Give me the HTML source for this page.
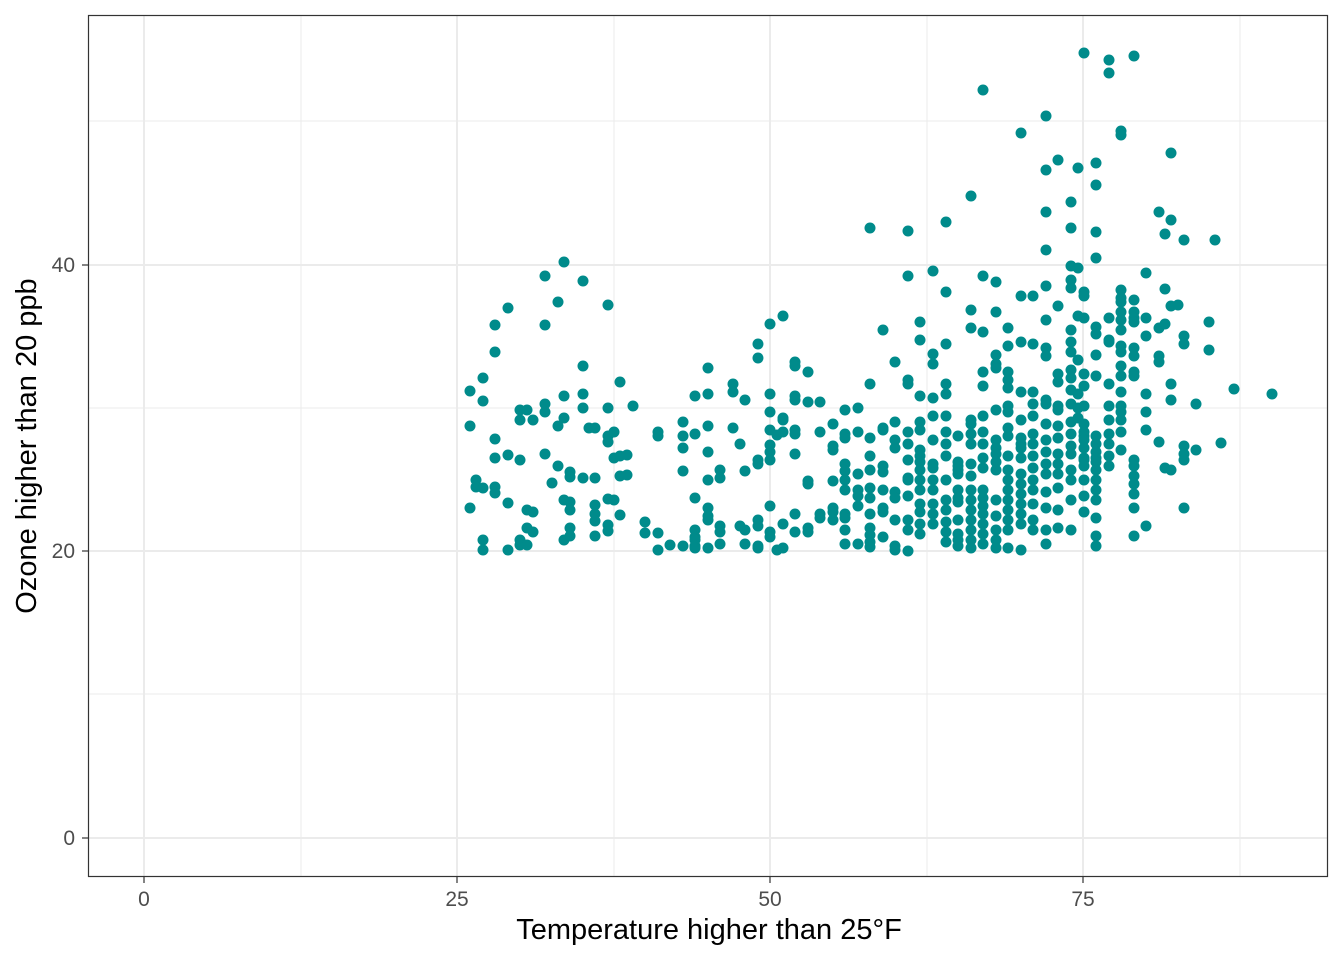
<!DOCTYPE html>
<html><head><meta charset="utf-8"><style>
html,body{margin:0;padding:0;background:#fff;}
svg{display:block;font-family:"Liberation Sans",sans-serif;}
</style></head><body>
<svg id="s" width="1344" height="960" xmlns="http://www.w3.org/2000/svg">
<rect width="1344" height="960" fill="#fff"/>
<g stroke="#ebebeb" stroke-width="1">
<line x1="301" y1="15" x2="301" y2="877"/><line x1="614" y1="15" x2="614" y2="877"/><line x1="927" y1="15" x2="927" y2="877"/><line x1="1240" y1="15" x2="1240" y2="877"/>
<line x1="88" y1="694" x2="1328" y2="694"/><line x1="88" y1="408" x2="1328" y2="408"/><line x1="88" y1="121" x2="1328" y2="121"/>
</g>
<g stroke="#ebebeb" stroke-width="2">
<line x1="144" y1="15" x2="144" y2="877"/><line x1="457" y1="15" x2="457" y2="877"/><line x1="770" y1="15" x2="770" y2="877"/><line x1="1083" y1="15" x2="1083" y2="877"/>
<line x1="88" y1="838" x2="1328" y2="838"/><line x1="88" y1="551" x2="1328" y2="551"/><line x1="88" y1="265" x2="1328" y2="265"/>
</g>
<g id="pts" fill="#008b8b"></g>
<rect x="88.5" y="15.5" width="1239" height="861" fill="none" stroke="#333" stroke-width="1.2"/>
<g stroke="#333" stroke-width="1.2">
<line x1="144" y1="877" x2="144" y2="883"/><line x1="457" y1="877" x2="457" y2="883"/><line x1="770" y1="877" x2="770" y2="883"/><line x1="1083" y1="877" x2="1083" y2="883"/>
<line x1="82" y1="838" x2="88" y2="838"/><line x1="82" y1="551" x2="88" y2="551"/><line x1="82" y1="265" x2="88" y2="265"/>
</g>
<g fill="#4d4d4d" font-size="21" text-anchor="middle">
<text x="144" y="906">0</text><text x="457" y="906">25</text><text x="770" y="906">50</text><text x="1083" y="906">75</text>
</g>
<g fill="#4d4d4d" font-size="21" text-anchor="end">
<text x="75" y="845">0</text><text x="75" y="558">20</text><text x="75" y="272">40</text>
</g>
<text x="709" y="939" font-size="29" text-anchor="middle" fill="#000">Temperature higher than 25°F</text>
<text transform="translate(36,446) rotate(-90)" font-size="29" text-anchor="middle" fill="#000">Ozone higher than 20 ppb</text>
</svg>
<script>
var d={470:[391,426,508],476:[480,487],483:[378,401,488,540,550],495:[325,352,439,458,487,493],508:[308,455,503,550],520:[410,420,460,540,545],527:[410,510,528,545],533:[420,512,532],545:[276,325,404,412,454],552:[483],558:[302,426,466],564:[262,396,418,500,540],570:[472,477,502,510,528,536],583:[281,366,394,408,478],589:[428],595:[428,478,505,514,521,536],608:[305,408,436,442,499,525,531],614:[432,458,500],620:[382,456,476,515],627:[455,475],633:[406],645:[522,533],658:[432,436,533,550],670:[545],683:[422,436,448,471,546],695:[396,434,498,530,537,540,546,548],708:[368,394,426,452,480,508,516,520,548],720:[470,478,526,532,544],733:[384,392,428],740:[444,526],745:[400,471,530,544],758:[344,358,460,464,520,526,546,548],770:[324,394,412,430,445,452,460,506,532,537],777:[435,550],783:[316,418,420,432,524,548],795:[362,366,396,400,430,434,454,514,532],808:[372,402,481,484,528,532],820:[402,432,514,518],833:[424,446,450,481,508,512,520],845:[410,434,438,464,471,480,490,514,518,530,544],858:[408,432,474,490,496,506,544],870:[228,384,438,456,470,488,498,514,528,535,542,547],883:[330,428,430,466,472,490,508,512,537],895:[362,422,440,448,492,498,520,546,550],908:[231,276,380,384,432,444,460,478,480,496,520,530,551],920:[322,340,396,422,430,450,456,462,470,480,490,504,512,524,534],933:[271,354,364,398,416,440,464,468,480,490,504,514,524],946:[222,292,344,384,394,416,432,444,456,480,500,510,522,532,542],958:[436,462,466,470,474,490,498,502,520,534,540,546],971:[196,310,328,420,424,434,444,464,476,490,500,510,520,530,540,548],983:[90,276,332,372,386,416,432,444,458,468,490,498,506,514,524,534,544],996:[282,312,355,364,368,410,440,448,454,462,470,500,516,530,540,548],1008:[328,346,372,380,388,406,412,428,436,456,470,480,490,500,510,520,530,548],1021:[133,296,342,392,420,438,444,448,458,474,484,494,504,514,524,550],1033:[296,344,392,404,416,434,444,456,468,480,490,504,520,530],1046:[116,170,212,250,286,320,348,356,400,404,424,440,452,464,474,492,508,530,544],1058:[160,306,374,382,406,410,426,438,454,464,474,488,510,528],1071:[202,228,266,280,288,330,342,352,370,378,390,404,422,434,446,454,470,480,500,530],1078:[168,268,316,360,394,408,418],1084:[53,292,296,318,374,386,406,424,432,436,440,448,458,460,466,480,496,512],1096:[163,185,232,258,327,334,355,376,436,444,452,458,462,470,480,490,500,518,536,546],1109:[60,73,318,340,342,384,406,420,434,444,456,466],1121:[131,135,290,298,302,312,320,330,346,352,366,376,392,406,412,420,432,450],1134:[56,300,312,318,322,348,356,372,376,460,466,476,484,494,508,536],1146:[273,318,336,394,412,430,526],1159:[212,328,356,362,442],1165:[234,289,324,468],1171:[153,220,306,384,400,470],1178:[305],1184:[240,336,344,446,454,460,508],1196:[404,450],1209:[322,350],1215:[240],1221:[443],1234:[389],1272:[394]};
var g=document.getElementById('pts'),h='';
for(var x in d){d[x].forEach(function(y){h+='<circle cx="'+x+'" cy="'+y+'" r="5.5"/>';});}
g.innerHTML=h;
</script>
</body></html>
